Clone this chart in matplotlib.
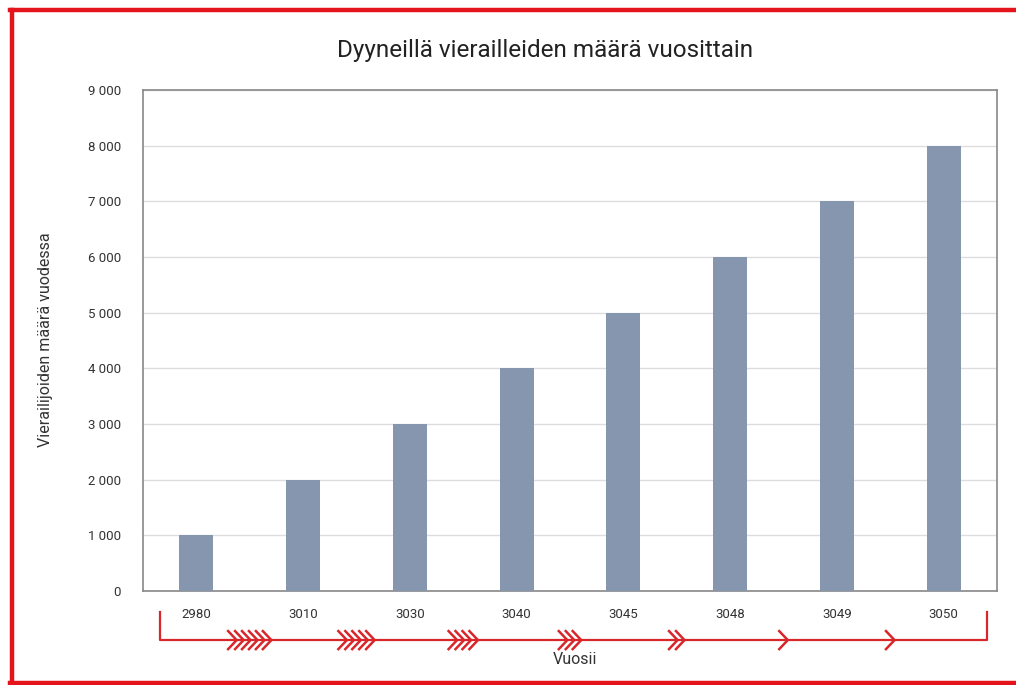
import matplotlib
matplotlib.use("Agg")
import matplotlib.pyplot as plt
import matplotlib.transforms as mtransforms
from matplotlib.lines import Line2D

years = ["2980", "3010", "3030", "3040", "3045", "3048", "3049", "3050"]
visitors = [1000, 2000, 3000, 4000, 5000, 6000, 7000, 8000]
chevron_counts = [6, 5, 4, 3, 2, 1, 1]
y_ticks = [0, 1000, 2000, 3000, 4000, 5000, 6000, 7000, 8000, 9000]

title = "Dyyneillä vierailleiden määrä vuosittain"
ylabel = "Vierailijoiden määrä vuodessa"
xlabel = "Vuosii"

plt.rcParams['font.family'] = ['Roboto', 'DejaVu Sans']

W, H = 1016, 685
fig = plt.figure(figsize=(W / 100, H / 100), dpi=100)
ax = fig.add_axes([143 / W, 1 - 591 / H, (997 - 143) / W, (591 - 90) / H])

x = list(range(len(years)))
ax.bar(x, visitors, width=0.32, color="#8596ae", zorder=3)
ax.set_xlim(-0.5, len(years) - 0.5)
ax.set_ylim(0, 9000)
ax.set_yticks(y_ticks)
ax.set_yticklabels([f"{v:,}".replace(",", " ") for v in y_ticks], fontsize=9.5, color="#333333")
ax.set_xticks(x)
ax.set_xticklabels(years, fontsize=9.5, color="#333333")
ax.tick_params(axis="both", length=0)
ax.tick_params(axis="x", pad=12)
ax.tick_params(axis="y", pad=16)
ax.grid(axis="y", color="#dddddd", linewidth=1, zorder=0)
for s in ax.spines.values():
    s.set_color("#888888")
    s.set_linewidth(1.2)

fig.text(545 / W, 1 - 50 / H, title, ha="center", va="center", fontsize=17.5, color="#222222")
fig.text(46 / W, 1 - 340 / H, ylabel, ha="center", va="center", rotation=90, fontsize=11.5, color="#333333")
fig.text(575 / W, 1 - 660 / H, xlabel, ha="center", va="center", fontsize=11.5, color="#333333")

# red timeline arrow below the axis
red = "#d8262b"
tr = mtransforms.blended_transform_factory(ax.transData, ax.transAxes)
y_line = -0.098
y_top = -0.042
x0, x1 = -0.34, 7.41
ax.add_line(Line2D([x0, x0, x1, x1], [y_top, y_line, y_line, y_top], transform=tr,
                   color=red, linewidth=1.6, clip_on=False))
cw = 0.08    # chevron width (data units)
cs = 0.065   # chevron spacing
ch = 0.018   # chevron half-height (axes units)
for i, n in enumerate(chevron_counts):
    mid = i + 0.5
    start = mid - (n - 1) * cs / 2
    for k in range(n):
        xc = start + k * cs
        ax.add_line(Line2D([xc - cw / 2, xc + cw / 2, xc - cw / 2],
                           [y_line + ch, y_line, y_line - ch], transform=tr,
                           color=red, linewidth=1.8, clip_on=False))

# red frame (left, top, bottom)
fig.add_artist(Line2D([12 / W, 12 / W], [0, 1 - 10 / H], transform=fig.transFigure, color="#e3141c", linewidth=3.2))
fig.add_artist(Line2D([10 / W, 1], [1 - 10 / H, 1 - 10 / H], transform=fig.transFigure, color="#e3141c", linewidth=3.2))
fig.add_artist(Line2D([10 / W, 1], [2 / H, 2 / H], transform=fig.transFigure, color="#e3141c", linewidth=3.2))

fig.savefig("out.png", dpi=100)
